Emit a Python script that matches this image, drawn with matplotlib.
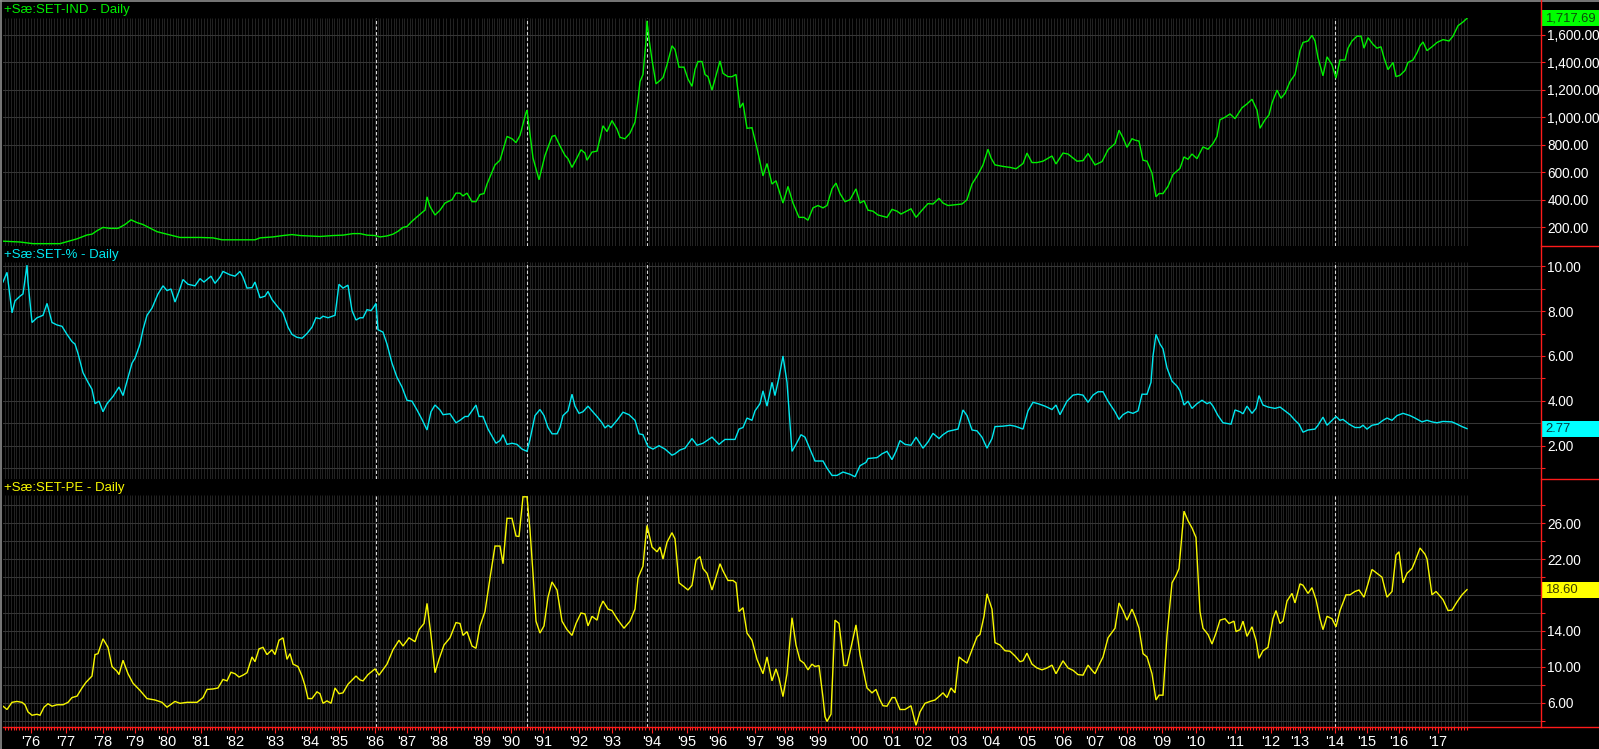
import matplotlib.pyplot as plt
import numpy as np
from matplotlib import transforms
from matplotlib.lines import Line2D
from matplotlib.patches import Rectangle

# === Data (x = bar position on the chart's bar axis) ===
year_labels = ["'76", "'77", "'78", "'79", "'80", "'81", "'82", "'83", "'84", "'85",
               "'86", "'87", "'88", "'89", "'90", "'91", "'92", "'93", "'94", "'95",
               "'96", "'97", "'98", "'99", "'00", "'01", "'02", "'03", "'04", "'05",
               "'06", "'07", "'08", "'09", "'10", "'11", "'12", "'13", "'14", "'15",
               "'16", "'17"]
year_bars = [31, 66, 103, 135, 167, 201, 235, 275, 310, 339,
             375, 407, 439, 482, 511, 543, 579, 612, 652, 687,
             718, 755, 785, 818, 859, 892, 923, 958, 991, 1027,
             1063, 1095, 1127, 1162, 1196, 1235, 1271, 1300, 1335, 1367,
             1399, 1438]
event_bars = [376, 527, 647, 1335]

# SET index
ind_bar = [3, 20, 33, 60, 77, 87, 92, 97, 103, 110, 118, 125, 131, 137, 143, 157, 167, 180, 200, 213,
           222, 255, 260, 273, 283, 292, 300, 320, 333, 343, 353, 360, 367, 375, 380, 387, 393, 398, 403, 407,
           412, 418, 423, 425, 427, 430, 435, 440, 445, 452, 456, 460, 463, 467, 472, 476, 480, 484, 487, 492,
           495, 500, 507, 512, 516, 520, 526, 527, 533, 539, 545, 552, 555, 560, 565, 568, 572, 577, 581, 585,
           587, 592, 597, 603, 607, 612, 617, 620, 625, 630, 635, 638, 640, 643, 646, 647, 649, 652, 656, 660,
           663, 667, 672, 675, 679, 684, 688, 692, 695, 698, 702, 705, 708, 712, 717, 720, 723, 728, 732, 736,
           740, 743, 747, 752, 757, 763, 767, 772, 776, 783, 788, 793, 799, 804, 808, 813, 818, 823, 827, 832,
           836, 840, 845, 850, 856, 860, 864, 868, 873, 878, 887, 892, 897, 901, 911, 916, 922, 928, 933, 939,
           943, 948, 962, 967, 972, 978, 983, 988, 991, 995, 1003, 1010, 1016, 1023, 1027, 1032, 1037, 1043, 1052, 1056,
           1063, 1068, 1077, 1083, 1088, 1095, 1102, 1108, 1115, 1119, 1123, 1127, 1132, 1135, 1139, 1143, 1147, 1152, 1156, 1159,
           1163, 1168, 1173, 1180, 1184, 1188, 1192, 1197, 1203, 1208, 1213, 1217, 1220, 1225, 1230, 1235, 1242, 1247, 1252, 1257,
           1260, 1265, 1269, 1272, 1277, 1281, 1285, 1290, 1295, 1300, 1303, 1308, 1312, 1315, 1318, 1323, 1327, 1332, 1336, 1340,
           1345, 1348, 1352, 1357, 1361, 1364, 1368, 1373, 1377, 1381, 1384, 1388, 1393, 1396, 1400, 1405, 1408, 1413, 1417, 1420,
           1423, 1427, 1432, 1437, 1443, 1449, 1453, 1458, 1463, 1467]
ind_val = [99, 93, 81, 81, 116, 144, 150, 175, 199, 192, 192, 220, 254, 234, 220, 168, 150, 126, 126, 123,
           109, 109, 123, 130, 140, 147, 140, 133, 140, 143, 154, 154, 143, 140, 130, 137, 150, 171, 199, 206,
           244, 282, 313, 324, 421, 351, 289, 324, 376, 400, 448, 448, 428, 448, 386, 386, 438, 445, 514, 601,
           653, 687, 860, 843, 815, 867, 1033, 1051, 704, 545, 722, 860, 867, 791, 722, 698, 635, 704, 763, 739,
           687, 746, 753, 937, 895, 975, 913, 853, 843, 884, 964, 1120, 1258, 1310, 1553, 1700, 1570, 1415, 1242, 1266,
           1287, 1380, 1518, 1491, 1363, 1363, 1276, 1224, 1345, 1404, 1404, 1310, 1294, 1196, 1328, 1408, 1318, 1294, 1294, 1310,
           1068, 1103, 919, 923, 774, 573, 663, 514, 538, 376, 497, 376, 272, 272, 251, 341, 358, 341, 358, 479,
           521, 445, 386, 400, 479, 376, 393, 324, 317, 289, 272, 330, 317, 296, 334, 272, 324, 372, 369, 410,
           376, 358, 369, 400, 514, 583, 653, 767, 704, 653, 642, 635, 625, 663, 739, 670, 670, 680, 718, 660,
           739, 732, 680, 684, 736, 653, 677, 763, 808, 905, 850, 780, 843, 833, 826, 687, 680, 593, 421, 445,
           445, 497, 583, 628, 711, 694, 732, 698, 784, 767, 808, 860, 981, 999, 1023, 989, 1068, 1096, 1130, 1051,
           919, 981, 1016, 1103, 1196, 1137, 1172, 1258, 1310, 1483, 1542, 1553, 1594, 1553, 1431, 1300, 1438, 1380, 1283, 1415,
           1415, 1501, 1553, 1588, 1588, 1501, 1577, 1529, 1501, 1511, 1431, 1345, 1397, 1294, 1304, 1339, 1397, 1415, 1467, 1518,
           1546, 1483, 1511, 1542, 1563, 1553, 1588, 1664, 1691, 1717.69]

# SET dividend yield (%)
yld_bar = [3, 7, 12, 15, 20, 23, 27, 28, 32, 37, 43, 47, 52, 57, 62, 67, 72, 75, 78, 83,
           88, 92, 95, 99, 103, 107, 113, 119, 123, 128, 132, 135, 140, 143, 147, 152, 158, 163, 167, 171,
           175, 179, 183, 188, 195, 200, 204, 207, 211, 215, 220, 223, 230, 235, 240, 243, 247, 252, 255, 260,
           265, 268, 272, 278, 283, 288, 292, 297, 302, 307, 312, 316, 320, 323, 328, 335, 339, 343, 348, 352,
           356, 360, 363, 367, 371, 373, 376, 378, 383, 387, 392, 397, 402, 407, 412, 417, 422, 427, 431, 435,
           440, 443, 450, 456, 460, 465, 468, 472, 476, 479, 483, 488, 496, 500, 503, 507, 512, 517, 522, 527,
           530, 535, 540, 544, 548, 552, 557, 560, 563, 568, 572, 575, 579, 583, 588, 592, 597, 602, 605, 608,
           611, 617, 623, 629, 635, 639, 643, 648, 653, 659, 665, 672, 675, 680, 685, 692, 697, 703, 712, 719,
           725, 735, 739, 743, 747, 752, 755, 760, 763, 767, 772, 775, 779, 783, 787, 792, 796, 801, 805, 810,
           815, 823, 827, 832, 837, 843, 850, 855, 860, 866, 868, 877, 882, 887, 892, 896, 900, 905, 911, 916,
           923, 928, 933, 939, 943, 948, 958, 963, 967, 972, 977, 982, 987, 992, 995, 1003, 1010, 1015, 1023, 1028,
           1033, 1038, 1045, 1052, 1056, 1060, 1067, 1073, 1078, 1083, 1088, 1093, 1098, 1103, 1108, 1115, 1119, 1123, 1128, 1133,
           1138, 1142, 1147, 1151, 1153, 1156, 1160, 1163, 1167, 1172, 1177, 1180, 1184, 1188, 1192, 1197, 1202, 1207, 1210, 1213,
           1218, 1223, 1231, 1235, 1240, 1243, 1247, 1252, 1256, 1259, 1263, 1268, 1275, 1280, 1285, 1290, 1295, 1299, 1303, 1308,
           1315, 1318, 1323, 1327, 1332, 1336, 1340, 1343, 1349, 1355, 1360, 1363, 1367, 1372, 1378, 1383, 1387, 1392, 1397, 1403,
           1410, 1415, 1422, 1427, 1432, 1437, 1443, 1452, 1457, 1462, 1467]
yld_val = [9.29, 9.72, 7.92, 8.45, 8.66, 8.76, 10.04, 9.29, 7.49, 7.70, 7.81, 8.34, 7.49, 7.38, 7.32, 6.96, 6.64, 6.53, 6.11, 5.26,
           4.83, 4.52, 3.88, 3.99, 3.52, 3.88, 4.20, 4.62, 4.24, 5.05, 5.68, 5.90, 6.53, 7.17, 7.81, 8.13, 8.76, 9.12, 8.91, 8.98,
           8.40, 8.87, 9.40, 9.19, 9.12, 9.44, 9.29, 9.40, 9.55, 9.23, 9.51, 9.76, 9.61, 9.55, 9.76, 9.51, 9.02, 9.04, 9.29, 8.59,
           8.66, 8.87, 8.51, 8.17, 7.92, 7.28, 6.96, 6.83, 6.79, 7.00, 7.28, 7.70, 7.66, 7.77, 7.70, 7.81, 9.19, 9.02, 9.15, 8.02,
           7.60, 7.70, 7.70, 8.06, 8.02, 8.13, 8.34, 7.17, 7.06, 6.53, 5.68, 5.05, 4.62, 4.03, 3.99, 3.60, 3.18, 2.71, 3.52, 3.82,
           3.60, 3.39, 3.43, 3.03, 3.14, 3.31, 3.31, 3.56, 3.82, 3.31, 3.31, 2.75, 2.12, 2.24, 2.50, 2.07, 2.12, 2.07, 1.86, 1.76,
           2.29, 3.35, 3.62, 3.35, 2.82, 2.54, 2.54, 2.82, 3.35, 3.56, 4.30, 3.77, 3.45, 3.52, 3.77, 3.56, 3.31, 3.03, 2.80, 2.92,
           2.82, 3.14, 3.50, 3.39, 3.14, 2.54, 2.50, 1.97, 1.86, 2.01, 1.86, 1.59, 1.65, 1.82, 1.90, 2.33, 2.03, 2.12, 2.39, 2.07,
           2.29, 2.29, 2.75, 2.82, 3.24, 3.14, 3.56, 3.88, 4.45, 3.77, 4.83, 4.24, 5.05, 6.00, 4.83, 1.76, 2.07, 2.50, 2.39, 1.86,
           1.33, 1.33, 1.01, 0.69, 0.69, 0.84, 0.74, 0.63, 1.12, 1.27, 1.44, 1.48, 1.65, 1.76, 1.39, 1.76, 2.24, 2.07, 2.03, 2.39,
           1.90, 2.18, 2.56, 2.33, 2.50, 2.65, 2.75, 3.60, 3.35, 2.71, 2.67, 2.39, 1.90, 2.33, 2.86, 2.88, 2.92, 2.88, 2.75, 3.56,
           3.94, 3.88, 3.77, 3.62, 3.82, 3.39, 3.99, 4.26, 4.30, 4.26, 3.94, 4.26, 4.41, 4.41, 3.99, 3.52, 3.18, 3.39, 3.52, 3.45,
           3.56, 4.30, 4.30, 4.83, 6.00, 6.96, 6.53, 6.32, 5.47, 4.88, 4.66, 4.45, 3.82, 3.99, 3.67, 3.88, 4.03, 3.88, 3.94, 3.77,
           3.35, 3.03, 2.97, 3.60, 3.52, 3.43, 3.77, 3.45, 3.67, 4.24, 3.82, 3.73, 3.67, 3.73, 3.56, 3.39, 3.14, 2.97, 2.61, 2.71,
           2.75, 2.92, 3.28, 2.92, 3.14, 3.31, 3.14, 3.18, 2.97, 2.82, 2.82, 2.92, 2.75, 2.92, 2.97, 3.14, 3.24, 3.14, 3.35, 3.45,
           3.35, 3.24, 3.07, 3.14, 3.07, 3.03, 3.09, 3.07, 2.97, 2.86, 2.77]

# SET P/E ratio
pe_bar = [3, 7, 12, 17, 22, 25, 28, 32, 37, 40, 44, 48, 52, 57, 63, 68, 72, 77, 82, 86,
          92, 95, 98, 103, 108, 112, 117, 119, 123, 128, 133, 140, 147, 155, 162, 167, 175, 180, 187, 197,
          203, 207, 213, 218, 223, 227, 231, 235, 239, 243, 247, 252, 255, 259, 263, 267, 272, 275, 279, 283,
          287, 290, 293, 298, 302, 305, 308, 312, 317, 320, 323, 327, 331, 335, 339, 343, 348, 356, 360, 363,
          368, 375, 379, 387, 393, 399, 403, 409, 415, 419, 424, 427, 431, 435, 439, 444, 450, 456, 460, 463,
          467, 472, 476, 480, 485, 490, 495, 500, 503, 507, 512, 516, 519, 523, 527, 530, 533, 536, 540, 544,
          548, 552, 557, 562, 567, 572, 576, 581, 585, 588, 592, 597, 600, 603, 608, 612, 618, 624, 630, 635,
          638, 643, 645, 647, 652, 657, 660, 663, 667, 672, 675, 679, 684, 688, 692, 696, 700, 703, 707, 712,
          715, 720, 723, 728, 733, 736, 739, 743, 747, 752, 757, 763, 767, 772, 776, 779, 783, 787, 792, 796,
          800, 804, 808, 812, 815, 819, 823, 825, 827, 831, 835, 839, 844, 847, 856, 860, 867, 872, 876, 880,
          883, 887, 892, 895, 900, 905, 911, 916, 920, 925, 930, 935, 940, 943, 947, 951, 955, 959, 963, 967,
          972, 977, 980, 984, 987, 992, 995, 1000, 1005, 1010, 1015, 1020, 1023, 1027, 1032, 1037, 1042, 1047, 1052, 1056,
          1063, 1068, 1073, 1078, 1083, 1088, 1092, 1095, 1099, 1103, 1108, 1115, 1119, 1123, 1127, 1132, 1135, 1139, 1143, 1147,
          1152, 1156, 1159, 1163, 1167, 1172, 1176, 1179, 1184, 1188, 1192, 1196, 1200, 1203, 1208, 1212, 1216, 1220, 1225, 1229,
          1234, 1236, 1240, 1243, 1247, 1252, 1256, 1259, 1263, 1268, 1273, 1276, 1280, 1283, 1287, 1292, 1295, 1300, 1303, 1308,
          1312, 1316, 1320, 1323, 1327, 1332, 1336, 1340, 1346, 1350, 1355, 1359, 1364, 1368, 1372, 1377, 1382, 1387, 1392, 1396,
          1399, 1403, 1407, 1412, 1415, 1420, 1425, 1427, 1432, 1436, 1443, 1448, 1452, 1457, 1462, 1467]
pe_val = [5.61, 5.24, 6.04, 6.14, 6.04, 5.77, 4.97, 4.60, 4.71, 4.60, 5.50, 5.88, 5.61, 5.77, 5.77, 6.04, 6.57, 6.73, 7.64, 8.27,
          8.97, 11.36, 11.47, 13.12, 12.17, 10.03, 9.50, 9.13, 10.73, 9.23, 8.17, 7.37, 6.46, 6.30, 6.04, 5.50, 6.14, 5.93, 6.04, 6.04,
          6.57, 7.48, 7.53, 7.64, 8.59, 8.43, 9.39, 9.23, 8.86, 9.07, 9.34, 11.10, 10.57, 12.00, 12.17, 11.36, 11.90, 11.36, 12.96, 13.23,
          10.83, 11.47, 10.30, 10.03, 8.97, 7.90, 6.46, 6.46, 7.21, 7.00, 5.93, 6.20, 5.93, 7.64, 7.00, 7.10, 8.06, 8.97, 8.54, 8.43,
          9.13, 9.77, 9.07, 10.30, 11.90, 12.96, 12.32, 13.23, 12.80, 14.14, 14.83, 17.07, 13.50, 9.34, 10.83, 12.43, 13.23, 14.93, 14.83, 13.50,
          13.92, 12.32, 12.06, 14.56, 16.16, 19.89, 23.46, 23.46, 21.49, 26.55, 26.55, 24.58, 24.52, 28.95, 28.95, 25.22, 20.42, 15.09, 13.76, 14.56,
          17.76, 19.46, 18.56, 15.09, 14.14, 13.50, 14.83, 16.00, 15.89, 14.56, 15.63, 15.20, 16.59, 17.33, 16.43, 16.27, 15.20, 14.30, 15.09, 16.43,
          19.89, 21.22, 23.62, 25.75, 23.35, 22.82, 23.35, 22.02, 23.88, 24.95, 24.26, 19.36, 18.93, 18.56, 19.09, 21.91, 22.29, 20.95, 20.42, 18.56,
          19.62, 21.49, 20.69, 19.62, 19.62, 19.36, 16.16, 16.59, 13.76, 12.96, 10.83, 9.23, 11.10, 8.43, 9.77, 8.70, 6.68, 9.23, 15.47, 12.43,
          10.73, 10.41, 9.66, 10.30, 10.03, 10.14, 6.57, 4.44, 3.91, 4.71, 15.20, 14.83, 10.14, 10.14, 14.67, 11.36, 7.64, 7.10, 7.48, 6.30,
          5.66, 5.61, 6.57, 6.57, 5.24, 5.24, 5.66, 3.48, 4.97, 5.93, 6.14, 6.30, 6.78, 7.10, 6.57, 7.64, 7.10, 11.10, 10.73, 10.41,
          11.90, 13.34, 13.60, 15.63, 18.13, 16.43, 12.69, 12.43, 11.79, 11.74, 11.21, 10.57, 10.67, 11.52, 10.30, 9.87, 9.66, 9.87, 10.19, 9.23,
          10.67, 9.87, 9.61, 9.13, 9.07, 10.19, 9.61, 9.23, 10.19, 11.10, 13.23, 14.30, 17.12, 16.27, 15.20, 16.43, 15.63, 14.30, 11.47, 11.10,
          9.23, 6.30, 6.84, 6.84, 13.50, 19.36, 20.16, 20.95, 27.35, 26.28, 25.48, 24.41, 16.16, 14.30, 13.60, 12.54, 13.76, 15.20, 15.36, 14.83,
          15.09, 13.92, 14.14, 15.09, 13.39, 14.46, 12.96, 10.94, 11.79, 12.17, 15.36, 16.27, 14.83, 15.09, 17.33, 18.18, 17.12, 19.25, 19.09, 18.18,
          18.82, 17.49, 15.36, 14.14, 15.63, 15.36, 14.46, 16.27, 18.02, 18.02, 18.40, 18.56, 17.76, 19.25, 20.85, 20.42, 19.99, 17.76, 18.40, 22.45,
          22.82, 19.36, 20.42, 20.95, 21.75, 23.24, 22.55, 22.02, 18.02, 18.40, 17.49, 16.27, 16.32, 17.23, 18.02, 18.60]

# === Layout (pixels of the 1599x749 canvas) ===
W, H = 1599, 749
LEFT, RIGHT = 3, 1541
panes = [(18, 246), (262, 479), (495, 727)]

plt.rcParams['font.family'] = ['Liberation Sans', 'DejaVu Sans']
fig = plt.figure(figsize=(W / 100, H / 100), dpi=100, facecolor='black')


def pane_axes(top, bottom):
    ax = fig.add_axes([LEFT / W, 1 - bottom / H, (RIGHT - LEFT) / W, (bottom - top) / H])
    ax.set_facecolor('black')
    for s in ax.spines.values():
        s.set_visible(False)
    ax.set_xlim(LEFT, RIGHT)
    return ax


# monthly grid positions between the year ticks
edges = [2 * year_bars[0] - year_bars[1]] + year_bars + [2 * year_bars[-1] - year_bars[-2]]
months = np.concatenate([np.linspace(a, b, 13)[:-1] for a, b in zip(edges[:-1], edges[1:])])
months = months[(months >= LEFT) & (months <= ind_bar[-1] + 1)]

series = [
    (ind_bar, ind_val, '#00f000', '#00ff00', '#0b4a0b', "+Sæ:SET-IND - Daily", (64, 1720),
     np.arange(200, 1601, 200), [], lambda v: f"{v:,.2f}", f"{ind_val[-1]:,.2f}"),
    (yld_bar, yld_val, '#00e8f0', '#00ffff', '#063a40', "+Sæ:SET-% - Daily", (0.53, 10.18),
     np.arange(2, 11, 2), np.arange(1, 10, 2), lambda v: f"{v:.2f}", f"{yld_val[-1]:.2f}"),
    (pe_bar, pe_val, '#f8f800', '#ffff00', '#3a3a00', "+Sæ:SET-PE - Daily", (3.29, 29.15),
     np.arange(6, 27, 4), np.arange(4, 29, 4), lambda v: f"{v:.2f}", f"{pe_val[-1]:.2f}"),
]

axes = []
for (top, bottom), (xs, ys, lc, tag_c, tag_tc, title, ylim, majors, minors, fmt, last) in zip(panes, series):
    ax = pane_axes(top, bottom)
    axes.append(ax)
    ax.set_ylim(*ylim)

    # grid
    ax.vlines(months, ylim[0], ylim[1], color='#222222', lw=0.75, zorder=1)
    for v in list(majors) + list(minors):
        ax.axhline(v, color='#363636', lw=0.75, zorder=1.5)
    for b in event_bars:
        ax.axvline(b, color='#d8d8d8', lw=0.8, ls=(0, (3, 2)), zorder=2)

    ax.plot(xs, ys, color=lc, lw=1.0, zorder=3, solid_joinstyle='miter')

    # right scale; a label that sits under the last-value tag is covered there
    px_per_unit = (bottom - top) / (ylim[1] - ylim[0])
    h = 16 / px_per_unit
    yv = ys[-1]
    ax.yaxis.tick_right()
    ax.set_yticks(majors)
    ax.set_yticks(minors, minor=True)
    ax.set_yticklabels(['' if abs(v - yv) < h * 0.6 else fmt(v) for v in majors])
    ax.tick_params(axis='y', which='both', direction='out', colors='#ff2020', labelcolor='white',
                   length=3, width=0.8, pad=1.5, labelsize=9.8)
    ax.tick_params(axis='x', which='both', bottom=False, labelbottom=False)

    # last value tag
    trans = transforms.blended_transform_factory(fig.transFigure, ax.transData)
    ax.add_patch(Rectangle((RIGHT / W + 0.0006, yv - h / 2), 1 - RIGHT / W, h, transform=trans,
                           facecolor=tag_c, edgecolor='none', clip_on=False, zorder=6))
    ax.text(1545 / W, yv, last, transform=trans, color=tag_tc, fontsize=9.4,
            va='center', ha='left', zorder=7, clip_on=False)

    fig.text(LEFT / W + 0.0006, 1 - (top - 7.5) / H, title, color=lc, fontsize=9.5,
             va='center', ha='left')

# bottom time axis
ax3 = axes[-1]
ax3.set_xticks(year_bars)
ax3.set_xticklabels(year_labels)
ax3.set_xticks(months, minor=True)
ax3.tick_params(axis='x', which='major', bottom=True, labelbottom=True, direction='out',
                colors='#ff2020', labelcolor='white', length=4.5, width=0.8, pad=1.2, labelsize=10.5)
ax3.tick_params(axis='x', which='minor', bottom=True, direction='out', colors='#ff2020',
                length=2.5, width=0.8)

# frame lines: grey outer border, red scale lines and pane separators
frame = [
    ([0, 1], [1 - 0.8 / H] * 2, '#8c8c8c', 1.2),
    ([0.8 / W] * 2, [0, 1], '#8c8c8c', 1.2),
    ([RIGHT / W] * 2, [1 - 727 / H, 1], '#ff1a1a', 1.0),
    ([LEFT / W, 1], [1 - 727 / H] * 2, '#ff1a1a', 1.0),
    ([RIGHT / W, 1], [1 - 246.5 / H] * 2, '#ff1a1a', 1.0),
    ([RIGHT / W, 1], [1 - 479 / H] * 2, '#ff1a1a', 1.0),
]
for xs, ys, c, lw in frame:
    fig.add_artist(Line2D(xs, ys, transform=fig.transFigure, color=c, lw=lw, zorder=10))

fig.savefig('out.png', dpi=100, facecolor='black')
